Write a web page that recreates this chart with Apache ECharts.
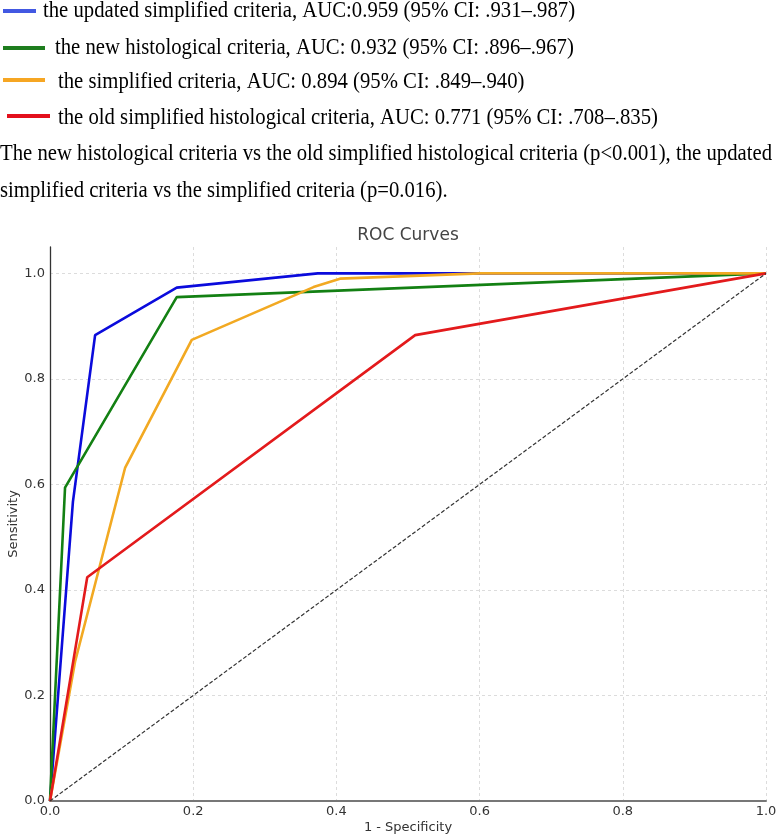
<!DOCTYPE html>
<html>
<head>
<meta charset="utf-8">
<script src="https://cdn.jsdelivr.net/npm/echarts@6/dist/echarts.min.js"></script>
<style>
  html, body { margin: 0; padding: 0; background: #fff; }
  #chart { width: 776px; height: 838px; }
</style>
</head>
<body>
<div id="chart"></div>
<script>
// ROC points as [1 - specificity, sensitivity]
const updatedSimplified = [[0, 0], [0.032, 0.567], [0.063, 0.883], [0.177, 0.973], [0.374, 1.0], [1, 1]]
const newHistological = [[0, 0], [0.021, 0.594], [0.177, 0.955], [1, 1]]
const simplified = [[0, 0], [0.035, 0.264], [0.105, 0.632], [0.198, 0.874], [0.368, 0.974], [0.405, 0.99], [0.6, 1.0], [1, 1]]
const oldSimplified = [[0, 0], [0.052, 0.424], [0.51, 0.883], [1, 1]]
const chanceLine = [[0, 0], [1, 1]]

const seriesNames = ['updated simplified', 'new histological', 'simplified', 'old simplified']
const legendLabels = [
  'the updated simplified criteria, AUC:0.959 (95% CI: .931–.987)',
  'the new histological criteria, AUC: 0.932 (95% CI: .896–.967)',
  'the simplified criteria, AUC: 0.894 (95% CI: .849–.940)',
  'the old simplified histological criteria, AUC: 0.771 (95% CI: .708–.835)',
]
const noteLines = [
  'The new histological criteria vs the old simplified histological criteria (p<0.001), the updated',
  'simplified criteria vs the simplified criteria (p=0.016).',
]
const tickValues = [0, 0.2, 0.4, 0.6, 0.8, 1.0]

const lineColors = ['#0b0bdc', '#138013', '#f2a922', '#e31a1c']
const swatchColors = ['#4258e2', '#1e7d1e', '#f6a623', '#e3101c']

// where the header rows sit (swatch x-range, swatch y, text x, text baseline)
const legendRows = [
  { x1: 3, x2: 36, y: 11, tx: 43, base: 15 },
  { x1: 3, x2: 45, y: 48, tx: 55, base: 52 },
  { x1: 3, x2: 45, y: 80, tx: 58, base: 86 },
  { x1: 7, x2: 50, y: 116, tx: 58, base: 122 },
]
const noteBaselines = [158, 195]

// header text in the source is squeezed sideways, so scale it to fit
const serifSize = 23
const serifFont = serifSize + 'px "Liberation Serif"'
const ctx = document.createElement('canvas').getContext('2d')
ctx.font = serifFont
const squeeze = 772 / ctx.measureText(noteLines[0]).width
const midShift = serifSize * 0.19

const headerText = (text, x, base) => ({
  type: 'text',
  x,
  y: base - midShift,
  scaleX: squeeze,
  silent: true,
  style: { text, font: serifFont, fill: '#000', verticalAlign: 'middle', align: 'left' },
})

const graphic = []
legendRows.forEach((r, i) => {
  graphic.push({
    type: 'line',
    silent: true,
    shape: { x1: r.x1, y1: r.y, x2: r.x2, y2: r.y },
    style: { stroke: swatchColors[i], lineWidth: 4 },
  })
  graphic.push(headerText(legendLabels[i], r.tx, r.base))
})
noteLines.forEach((t, i) => graphic.push(headerText(t, 0, noteBaselines[i])))

const curves = [updatedSimplified, newHistological, simplified, oldSimplified]

const series = curves.map((data, i) => ({
  name: seriesNames[i],
  type: 'line',
  data,
  showSymbol: false,
  lineStyle: { color: lineColors[i], width: 2.6 },
  itemStyle: { color: lineColors[i] },
  z: 3 + i,
}))
series.push({
  name: 'chance',
  type: 'line',
  data: chanceLine,
  showSymbol: false,
  lineStyle: { color: '#333', width: 1.2, type: [4, 2] },
  z: 8,
})

const gridLine = { show: true, lineStyle: { color: '#d4d4d4', width: 0.8, type: [3, 3] } }
const tickFont = { fontFamily: 'DejaVu Sans', fontSize: 13, color: '#333' }

const chart = echarts.init(document.getElementById('chart'), null, { renderer: 'canvas' })
chart.setOption({
  animation: false,
  backgroundColor: '#fff',
  title: {
    text: 'ROC Curves',
    left: 408,
    top: 227,
    padding: 0,
    textAlign: 'center',
    textStyle: { fontFamily: 'DejaVu Sans', fontSize: 17, fontWeight: 'normal', color: '#444' },
  },
  grid: { left: 50, right: 10, top: 247, bottom: 37, containLabel: false, outerBoundsMode: 'none' },
  xAxis: {
    type: 'value',
    min: 0,
    max: 1,
    interval: 0.2,
    name: '1 - Specificity',
    nameLocation: 'middle',
    nameGap: 20,
    nameMoveOverlap: false,
    nameTextStyle: { fontFamily: 'DejaVu Sans', fontSize: 13, color: '#333' },
    axisLine: { show: true, lineStyle: { color: '#777', width: 2 } },
    axisTick: { show: false },
    axisLabel: { ...tickFont, margin: 4, customValues: tickValues, formatter: v => v.toFixed(1) },
    splitLine: { ...gridLine, showMinLine: false, showMaxLine: true },
  },
  yAxis: {
    type: 'value',
    min: 0,
    max: 1.05,
    interval: 0.2,
    name: 'Sensitivity',
    nameLocation: 'middle',
    nameGap: 30,
    nameMoveOverlap: false,
    nameTextStyle: { fontFamily: 'DejaVu Sans', fontSize: 13, color: '#333' },
    axisLine: { show: true, lineStyle: { color: '#333', width: 1.3 } },
    axisTick: { show: false },
    axisLabel: { ...tickFont, margin: 5, customValues: tickValues, formatter: v => v.toFixed(1) },
    splitLine: { ...gridLine, showMinLine: false, showMaxLine: false },
  },
  graphic,
  series,
})
</script>
</body>
</html>
